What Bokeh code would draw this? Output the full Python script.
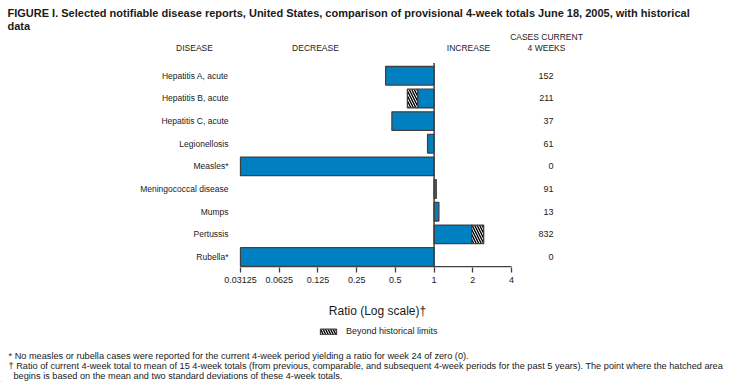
import math
from bokeh.plotting import figure
from bokeh.layouts import column
from bokeh.models import (Range1d, FixedTicker, Legend, LegendItem)
from bokeh.core.properties import value
from bokeh.embed import file_html
from bokeh.resources import INLINE

# ---------------- data ----------------
DISEASES = ["Hepatitis A, acute", "Hepatitis B, acute", "Hepatitis C, acute",
            "Legionellosis", "Measles*", "Meningococcal disease", "Mumps",
            "Pertussis", "Rubella*"]
RATIOS = [0.42, 0.62, 0.47, 0.89, 0.0, 1.04, 1.09, 2.43, 0.0]
HATCH_START = [None, 0.745, None, None, None, None, None, 1.96, None]
CASES = ["152", "211", "37", "61", "0", "91", "13", "832", "0"]
TICKS = [0.03125, 0.0625, 0.125, 0.25, 0.5, 1, 2, 4]
TICK_LABELS = ["0.03125", "0.0625", "0.125", "0.25", "0.5", "1", "2", "4"]

TITLE_1 = ("FIGURE I. Selected notifiable disease reports, United States, comparison of "
           "provisional 4-week totals June 18, 2005, with historical")
TITLE_2 = "data"
HEADERS = ["DISEASE", "DECREASE", "INCREASE", "CASES CURRENT", "4 WEEKS"]
AXIS_TITLE = "Ratio (Log scale)\u2020"
LEGEND_LABEL = "Beyond historical limits"
FOOTNOTES = [
    "* No measles or rubella cases were reported for the current 4-week period "
    "yielding a ratio for week 24 of zero (0).",
    "\u2020 Ratio of current 4-week total to mean of 15 4-week totals (from previous, "
    "comparable, and subsequent 4-week periods for the past 5 years). The point where "
    "the hatched area",
    "begins is based on the mean and two standard deviations of these 4-week totals.",
]

# ---------------- layout (pixels) ----------------
FONT = "Liberation Sans"
BLUE = "#0080C0"
DARK = "#404040"
TXT = "#1a1a1a"
W = 735
FRAME_H = 267          # main frame height (axis line at bottom)
AX_L, AX_R = 240, 511  # pixel extent of X_MIN .. X_MAX
ROW_PX = 22.65
BOTTOM_PAD = 10.5      # from last row centre to axis
MAIN_BOTTOM = 25
FOOT_H = 90

X_MIN, X_MAX = TICKS[0], TICKS[-1]
PPO = (AX_R - AX_L) / (math.log2(X_MAX) - math.log2(X_MIN))
n = len(DISEASES)
ypos = [n - 1 - i for i in range(n)]
YS = -BOTTOM_PAD / ROW_PX
YE = YS + FRAME_H / ROW_PX


def dx(px):
    return 2 ** (math.log2(X_MIN) + (px - AX_L) / PPO)


def dy(py):
    return YS + (FRAME_H - py) / ROW_PX


# bar pieces
blue_l, blue_r, blue_y = [], [], []
hat_l, hat_r, hat_y = [], [], []
for i, r in enumerate(RATIOS):
    r = max(r, X_MIN)
    h = HATCH_START[i]
    end = h if h is not None else r
    blue_l.append(min(1, end)); blue_r.append(max(1, end)); blue_y.append(ypos[i])
    if h is not None:
        hat_l.append(min(h, r)); hat_r.append(max(h, r)); hat_y.append(ypos[i])

p = figure(width=W, height=FRAME_H + MAIN_BOTTOM, x_axis_type="log",
           x_range=Range1d(dx(0), dx(W)), y_range=Range1d(YS, YE),
           y_axis_location=None,
           output_backend="svg", toolbar_location=None,
           min_border_left=0, min_border_right=0,
           min_border_top=0, min_border_bottom=MAIN_BOTTOM)
p.outline_line_color = None
p.grid.visible = False

HATCH = dict(fill_color="white", line_color=DARK, line_width=1.3,
             hatch_pattern="\\", hatch_color="black", hatch_weight=1.4, hatch_scale=5)

p.hbar(y=blue_y, left=blue_l, right=blue_r, height=0.82,
       fill_color=BLUE, line_color=DARK, line_width=1.3)
p.hbar(y=hat_y, left=hat_l, right=hat_r, height=0.82, **HATCH)

# reference line at ratio 1 and the axis baseline
p.segment(x0=[1], x1=[1], y0=[YS], y1=[dy(62.5)], line_color=DARK, line_width=1.5)
p.segment(x0=[X_MIN], x1=[X_MAX], y0=[YS + 0.7 / ROW_PX], y1=[YS + 0.7 / ROW_PX],
          line_color=DARK, line_width=1.4)

xa = p.xaxis[0]
xa.ticker = FixedTicker(ticks=TICKS, minor_ticks=[])
xa.major_label_overrides = dict(zip(TICKS, TICK_LABELS))
xa.axis_line_color = None
xa.major_tick_line_color = DARK
xa.major_tick_line_width = 1.3
xa.major_tick_in = 0
xa.major_tick_out = 5
xa.minor_tick_line_color = None
xa.major_label_text_font = FONT
xa.major_label_text_font_size = "9px"
xa.major_label_text_color = TXT
xa.major_label_standoff = 4


def txt(fig, xs, ys, texts, size, align, style="normal"):
    fig.text(x=xs, y=ys, text=texts, text_align=align, text_baseline="middle",
             text_font=value(FONT), text_font_size=value(size),
             text_font_style=style, text_color=TXT)


# title
txt(p, [dx(7), dx(7)], [dy(12.5), dy(25)], [TITLE_1, TITLE_2], "11px", "left", "bold")
# headers
txt(p, [dx(194), dx(315), dx(468), dx(546), dx(546)],
    [dy(47), dy(47), dy(47), dy(36.5), dy(47)], HEADERS, "8.5px", "center")
# disease names
txt(p, [dx(228)] * n, ypos, DISEASES, "8.5px", "right")
# cases
txt(p, [dx(553)] * n, ypos, CASES, "9px", "right")

# ---------------- footer figure ----------------
MAIN_H = FRAME_H + MAIN_BOTTOM
f = figure(width=W, height=FOOT_H, x_range=Range1d(0, W), y_range=Range1d(FOOT_H, 0),
           x_axis_location=None, y_axis_location=None,
           output_backend="svg", toolbar_location=None,
           min_border_left=0, min_border_right=0, min_border_top=0, min_border_bottom=0)
f.outline_line_color = None
f.grid.visible = False

txt(f, [377], [310 - MAIN_H], [AXIS_TITLE], "12px", "center")
txt(f, [8, 8, 13], [355.5 - MAIN_H, 365.5 - MAIN_H, 375.5 - MAIN_H], FOOTNOTES,
    "9.2px", "left")

# legend key: a hatched proxy glyph kept outside the visible range
key = f.hbar(y=[FOOT_H + 100], left=[0], right=[1], height=1, **HATCH)
legend = Legend(items=[LegendItem(label=LEGEND_LABEL, renderers=[key])],
                location=(318, FOOT_H - (330.5 - MAIN_H) - 5.5),
                glyph_width=20, glyph_height=7, label_height=7, label_width=10,
                padding=0, margin=0, spacing=0, label_standoff=8,
                border_line_color=None, background_fill_alpha=0,
                label_text_font=FONT, label_text_font_size="9px",
                label_text_color=TXT)
f.add_layout(legend)

layout = column(p, f, spacing=0)
open("out.html", "w").write(file_html(layout, INLINE))
